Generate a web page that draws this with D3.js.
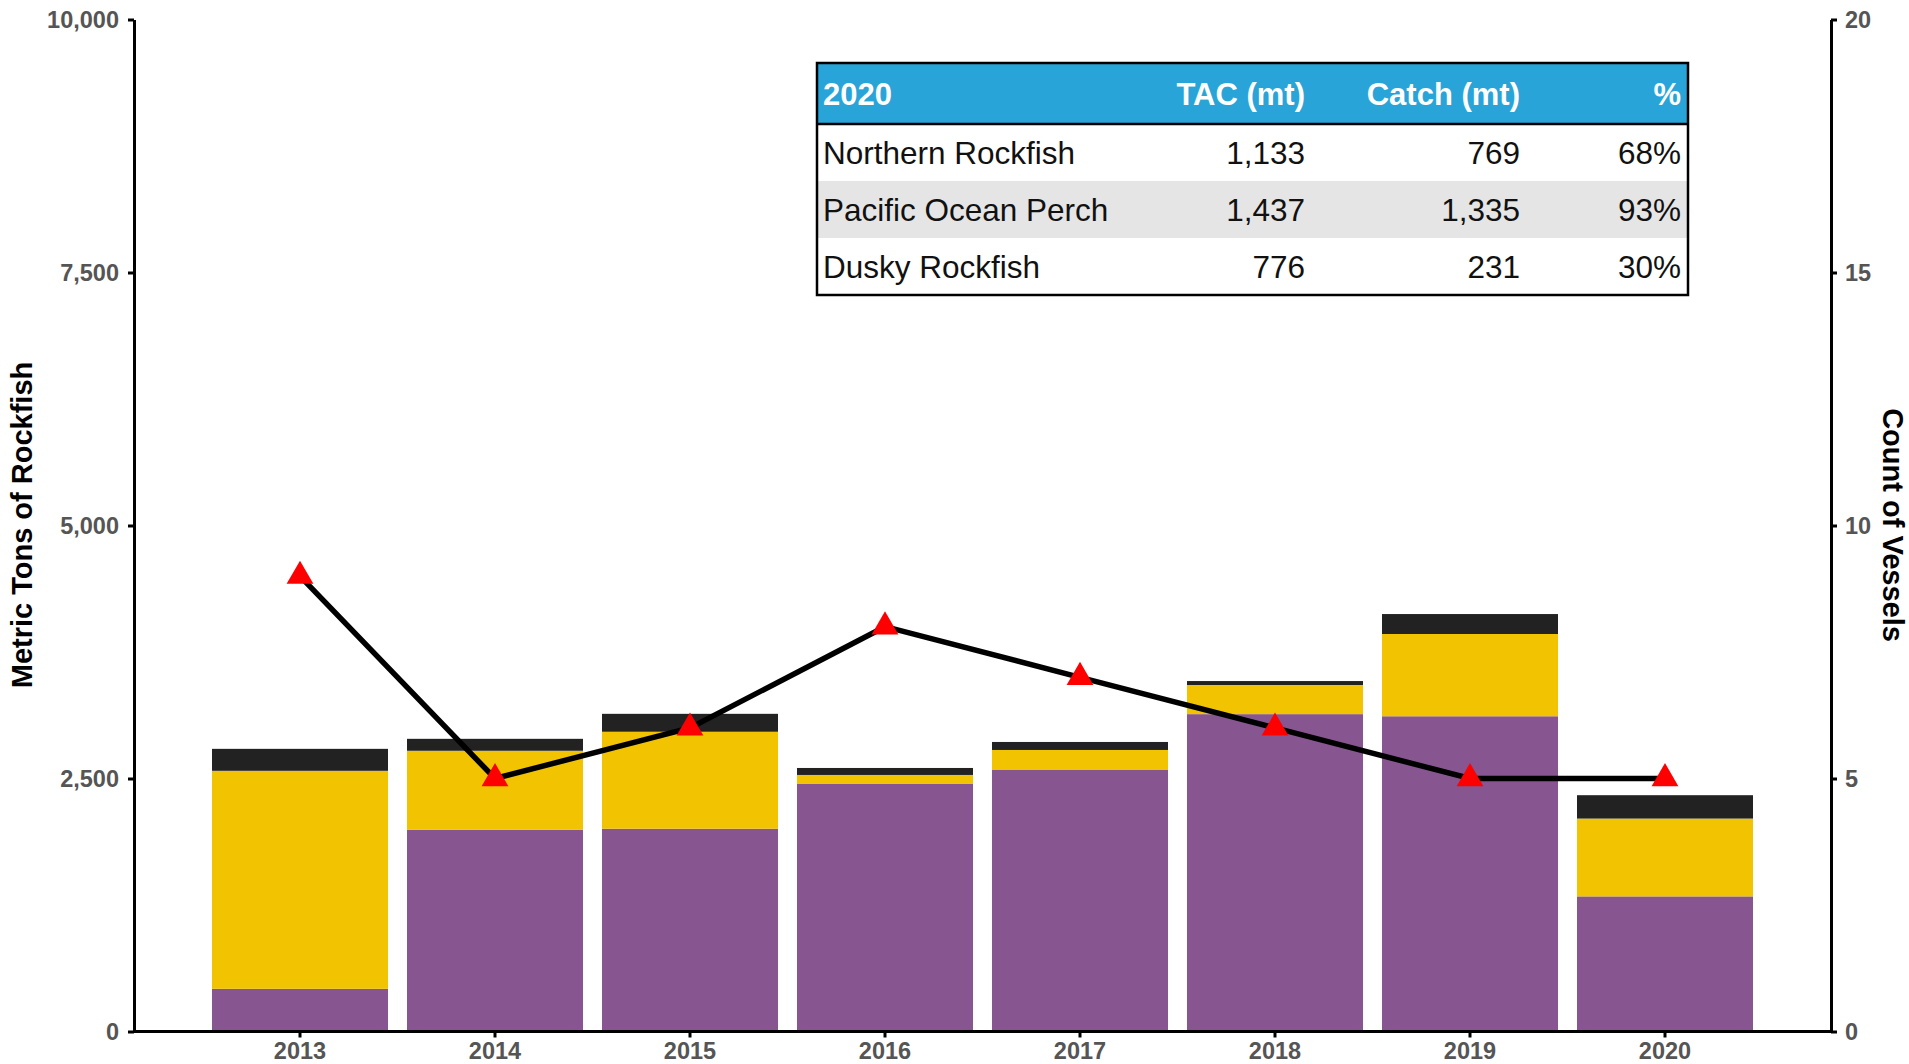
<!DOCTYPE html>
<html>
<head>
<meta charset="utf-8">
<script src="https://cdn.jsdelivr.net/npm/d3@7"></script>
<style>
  body { margin: 0; background: #fff; }
  svg text { font-family: "Liberation Sans", Arial, sans-serif; }
</style>
</head>
<body>
<svg id="chart" width="1909" height="1064"></svg>
<script>
// data
const years = ["2013", "2014", "2015", "2016", "2017", "2018", "2019", "2020"]
const pop = [422, 1994, 2004, 2446, 2584, 3136, 3115, 1335]      // Pacific Ocean Perch
const northern = [2154, 780, 958, 89, 198, 288, 813, 769]        // Northern Rockfish
const dusky = [217, 118, 177, 69, 79, 39, 197, 231]              // Dusky Rockfish
const vessels = [9, 5, 6, 8, 7, 6, 5, 5]

const leftTicks = [0, 2500, 5000, 7500, 10000]
const rightTicks = [0, 5, 10, 15, 20]

const tableHeader = ["2020", "TAC (mt)", "Catch (mt)", "%"]
const species = ["Northern Rockfish", "Pacific Ocean Perch", "Dusky Rockfish"]
const tac = [1133, 1437, 776]
const catchMt = [769, 1335, 231]
const pct = ["68%", "93%", "30%"]

const colors = { pop: "#875691", northern: "#F2C300", dusky: "#222222" }

const svg = d3.select("#chart")

const axisLeftX = 134, axisRightX = 1831
const x = d3.scaleBand().domain(years).range([202.5, 1762.5]).paddingInner(0.0974).paddingOuter(0.0487)
const y = d3.scaleLinear().domain([0, 10000]).range([1031.5, 19.5])
const y2 = d3.scaleLinear().domain([0, 20]).range([1031.5, 19.5])

// stacked bars
const rows = years.map((yr, i) => ({ year: yr, pop: pop[i], northern: northern[i], dusky: dusky[i] }))
const stack = d3.stack().keys(["pop", "northern", "dusky"])
const series = stack(rows)

svg.append("g").selectAll("g")
  .data(series)
  .enter().append("g")
  .attr("fill", d => colors[d.key])
  .selectAll("rect")
  .data(d => d)
  .enter().append("rect")
  .attr("x", d => x(d.data.year))
  .attr("width", x.bandwidth())
  .attr("y", d => y(d[1]))
  .attr("height", d => y(d[0]) - y(d[1]))

// left axis
const gl = svg.append("g").attr("transform", `translate(${axisLeftX},0)`)
  .call(d3.axisLeft(y).tickValues(leftTicks).tickFormat(d3.format(",")).tickSize(6).tickSizeOuter(0).tickPadding(9))
// right axis
const gr = svg.append("g").attr("transform", `translate(${axisRightX},0)`)
  .call(d3.axisRight(y2).tickValues(rightTicks).tickSize(6).tickSizeOuter(0).tickPadding(8))
// bottom axis
const gb = svg.append("g").attr("transform", `translate(0,${y(0)})`)
  .call(d3.axisBottom(x).tickSize(6).tickSizeOuter(0).tickPadding(5))
gb.select(".domain").remove()
svg.append("line")
  .attr("x1", axisLeftX).attr("x2", axisRightX)
  .attr("y1", y(0)).attr("y2", y(0))
  .attr("stroke", "#000").attr("stroke-width", 3)

for (const g of [gl, gr, gb]) {
  g.selectAll(".domain").attr("stroke", "#000").attr("stroke-width", 3)
  g.selectAll(".tick line").attr("stroke", "#000").attr("stroke-width", 3)
  g.selectAll(".tick text")
    .attr("fill", "#555")
    .style("font-size", "23.5px")
    .style("font-weight", "bold")
}

// axis titles
svg.append("text")
  .attr("transform", "translate(32,525) rotate(-90)")
  .attr("text-anchor", "middle")
  .style("font-size", "29px").style("font-weight", "bold")
  .text("Metric Tons of Rockfish")
svg.append("text")
  .attr("transform", "translate(1883,525) rotate(90)")
  .attr("text-anchor", "middle")
  .style("font-size", "29px").style("font-weight", "bold")
  .text("Count of Vessels")

// vessel line
const cx = d => x(d.year) + x.bandwidth() / 2
const pts = years.map((yr, i) => ({ year: yr, v: vessels[i] }))
svg.append("path")
  .datum(pts)
  .attr("fill", "none")
  .attr("stroke", "#000")
  .attr("stroke-width", 5.5)
  .attr("d", d3.line().x(cx).y(d => y2(d.v)))

svg.append("g").selectAll("path")
  .data(pts)
  .enter().append("path")
  .attr("transform", d => `translate(${cx(d)},${y2(d.v)})`)
  .attr("d", d3.symbol().type(d3.symbolTriangle).size(310))
  .attr("fill", "#FF0000")

// table 2020
const tX0 = 817, tX1 = 1688, tY0 = 63, headH = 61, rowH = 57
const colX = [823, 1305, 1520, 1681]
const colAnchor = ["start", "end", "end", "end"]
const tbl = svg.append("g")

tbl.append("rect")
  .attr("x", tX0).attr("y", tY0).attr("width", tX1 - tX0).attr("height", headH)
  .attr("fill", "#28A4D9")
tbl.append("rect")
  .attr("x", tX0).attr("y", tY0 + headH + rowH).attr("width", tX1 - tX0).attr("height", rowH)
  .attr("fill", "#E5E5E5")

tbl.selectAll("text.head")
  .data(tableHeader)
  .enter().append("text")
  .attr("class", "head")
  .attr("x", (d, i) => colX[i])
  .attr("y", tY0 + headH / 2)
  .attr("dy", "0.36em")
  .attr("text-anchor", (d, i) => colAnchor[i])
  .attr("fill", "#fff")
  .style("font-size", "31px").style("font-weight", "bold")
  .text(d => d)

const fmt = d3.format(",")
const tableRows = species.map((s, i) => [s, fmt(tac[i]), fmt(catchMt[i]), pct[i]])
const tr = tbl.selectAll("g.row")
  .data(tableRows)
  .enter().append("g")
  .attr("class", "row")
  .attr("transform", (d, i) => `translate(0,${tY0 + headH + i * rowH + rowH / 2})`)
tr.selectAll("text")
  .data(d => d)
  .enter().append("text")
  .attr("x", (d, i) => colX[i])
  .attr("dy", "0.36em")
  .attr("text-anchor", (d, i) => colAnchor[i])
  .attr("fill", "#111")
  .style("font-size", "31.5px")
  .text(d => d)

tbl.append("line")
  .attr("x1", tX0).attr("x2", tX1)
  .attr("y1", tY0 + headH).attr("y2", tY0 + headH)
  .attr("stroke", "#000").attr("stroke-width", 2.5)
tbl.append("rect")
  .attr("x", tX0).attr("y", tY0).attr("width", tX1 - tX0).attr("height", headH + 3 * rowH)
  .attr("fill", "none").attr("stroke", "#000").attr("stroke-width", 2.5)
</script>
</body>
</html>
